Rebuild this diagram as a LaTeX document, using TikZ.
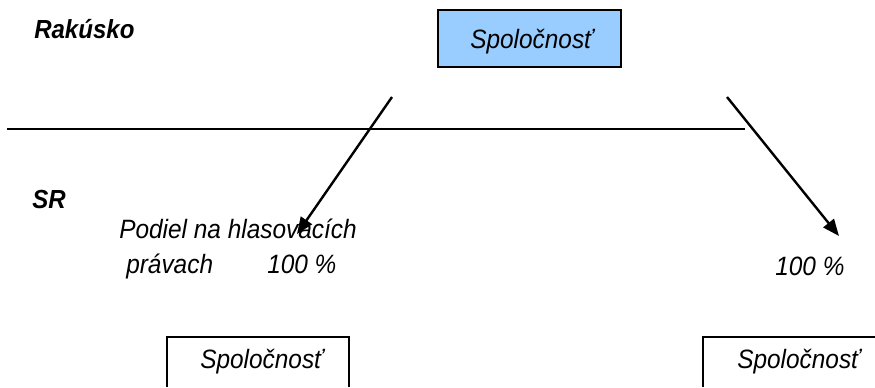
\documentclass[tikz,border=0pt]{standalone}
\usepackage{fontspec}
\setmainfont[FakeStretch=0.92]{Liberation Sans}
\usetikzlibrary{arrows.meta}
\definecolor{boxblue}{RGB}{153,204,255}
\begin{document}
\begin{tikzpicture}[x=0.75pt,y=-0.75pt,
  lbl/.style={font=\fontsize{19.9}{23}\selectfont\itshape, inner sep=0pt, anchor=base west},
  country/.style={font=\fontsize{19.6}{23}\selectfont\bfseries\itshape, inner sep=0pt, anchor=base west},
  boxline/.style={line width=1.2pt},
  arr/.style={line width=1.8pt, -{Triangle[length=12.5pt,width=10pt]}}]
\useasboundingbox (0,0) rectangle (875,387);
% top box
\node[draw, boxline, fill=boxblue, minimum width=183*0.75pt, minimum height=57*0.75pt, inner sep=0pt] (top) at (529.5,38.5) {};
\node[lbl] (toptext) at (470,48) {Spoločnosť};
% country labels
\node[country] (at) at (34,38) {Rakúsko};
\node[country] (sr) at (32,208) {SR};
% border line
\coordinate (bl) at (7,129);
\coordinate (br) at (745,129);
\draw[line width=1.2pt] (bl) -- (br);
% arrows
\coordinate (a1s) at (392,97);
\coordinate (a1e) at (297,234);
\coordinate (a2s) at (727,97);
\coordinate (a2e) at (839,236);
\draw[arr] (a1s) -- (a1e);
\draw[arr] (a2s) -- (a2e);
% labels
\node[lbl] (pod1) at (119,238) {Podiel na hlasovacích};
\node[lbl] (pod2) at (126,273) {právach};
\node[lbl] (p1) at (267,273) {100 \%};
\node[lbl] (p2) at (775,275) {100 \%};
% bottom boxes (cut off at bottom)
\coordinate (lb1) at (167,387);
\coordinate (lb2) at (167,337);
\coordinate (lb3) at (349,337);
\coordinate (lb4) at (349,387);
\draw[boxline] (lb1) -- (lb2) -- (lb3) -- (lb4);
\node[lbl] (lbt) at (200,368) {Spoločnosť};
\coordinate (rb1) at (703,387);
\coordinate (rb2) at (703,337);
\coordinate (rb3) at (875,337);
\draw[boxline] (rb1) -- (rb2) -- (rb3);
\node[lbl] (rbt) at (737,368) {Spoločnosť};
\end{tikzpicture}
\end{document}
